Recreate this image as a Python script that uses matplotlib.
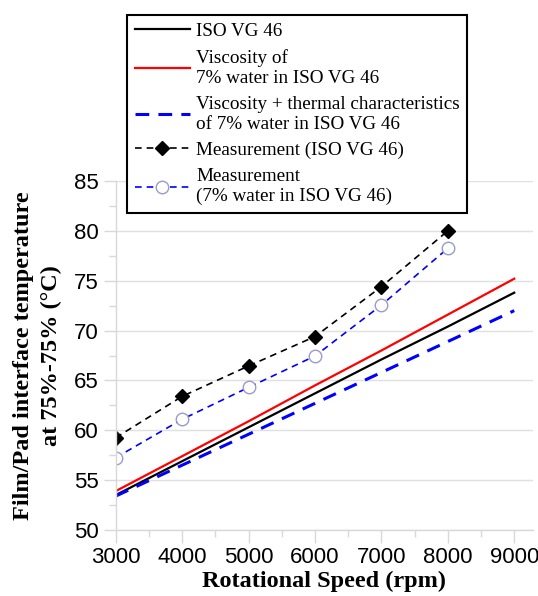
import numpy as np
import matplotlib
matplotlib.use('Agg')
import matplotlib.pyplot as plt
from matplotlib.ticker import MultipleLocator

# Model curves (3000-9000 rpm)
speed_model = [3000, 4000, 5000, 6000, 7000, 8000, 9000]
temp_vg46 = [53.5, 56.9, 60.3, 63.7, 67.1, 70.4, 73.8]
temp_visc_water = [53.9, 57.4, 60.9, 64.5, 68.0, 71.6, 75.2]
temp_visc_thermal = [53.4, 56.5, 59.6, 62.7, 65.8, 68.9, 72.0]

# Measurements (3000-8000 rpm)
speed_meas = [3000, 4000, 5000, 6000, 7000, 8000]
meas_vg46 = [59.25, 63.4, 66.45, 69.4, 74.4, 80.0]
meas_water = [57.25, 61.1, 64.3, 67.45, 72.55, 78.25]

labels = ['ISO VG 46',
          'Viscosity of\n7% water in ISO VG 46',
          'Viscosity + thermal characteristics\nof 7% water in ISO VG 46',
          'Measurement (ISO VG 46)',
          'Measurement\n(7% water in ISO VG 46)']

fig = plt.figure(figsize=(5.38, 5.96), dpi=100)
ax = fig.add_axes([0.215, 0.1107, 0.776, 0.5856])

ax.plot(speed_model, temp_vg46, color='black', lw=1.6, label=labels[0])
ax.plot(speed_model, temp_visc_water, color='#ff0000', lw=1.6, label=labels[1])
ax.plot(speed_model, temp_visc_thermal, color='#0000ff', lw=2.2,
        dashes=(4.5, 3), label=labels[2])
ax.plot(speed_meas, meas_vg46, color='black', lw=1.2, dashes=(4, 3),
        marker='D', markersize=7, markerfacecolor='black', label=labels[3])
ax.plot(speed_meas, meas_water, color='#0000ff', lw=1.2, dashes=(4, 3),
        marker='o', markersize=9, markerfacecolor='white',
        markeredgecolor='#9a9acc', markeredgewidth=1.0, label=labels[4])

ax.set_xlim(3000, 9285)
ax.set_ylim(50, 85)
ax.xaxis.set_major_locator(MultipleLocator(1000))
ax.xaxis.set_minor_locator(MultipleLocator(500))
ax.yaxis.set_major_locator(MultipleLocator(5))
ax.yaxis.set_minor_locator(MultipleLocator(2.5))
ax.yaxis.grid(True, color='#e0e0e0', lw=1.0)
ax.set_axisbelow(True)

for side in ['top', 'right']:
    ax.spines[side].set_visible(False)
for side in ['left', 'bottom']:
    ax.spines[side].set_color('#d8d8d8')
    ax.spines[side].set_linewidth(1.0)

ax.tick_params(which='major', length=9, color='#d8d8d8', width=1.0,
               labelsize=16, pad=3)
ax.tick_params(which='minor', length=5, color='#d8d8d8', width=1.0)
for lab in ax.get_xticklabels() + ax.get_yticklabels():
    lab.set_family('Liberation Sans')

ax.set_xlabel('Rotational Speed (rpm)', family='Liberation Serif',
              fontweight='bold', fontsize=17.5, labelpad=2)
ax.set_ylabel('Film/Pad interface temperature\nat 75%-75% (\u00b0C)',
              family='Liberation Serif', fontweight='bold', fontsize=17.5,
              labelpad=9, linespacing=1.4)

leg = fig.legend(loc='upper left', bbox_to_anchor=(127 / 538, 1 - 15 / 596),
                 bbox_transform=fig.transFigure, borderaxespad=0,
                 prop={'family': 'Liberation Serif', 'size': 13.8},
                 handlelength=2.9, handletextpad=0.3, borderpad=0.4,
                 labelspacing=0.48, fancybox=False, framealpha=1)
leg.get_frame().set_edgecolor('black')
leg.get_frame().set_linewidth(1.5)
for t in leg.get_texts():
    t.set_linespacing(1.2)

fig.savefig('out.png', dpi=100)
